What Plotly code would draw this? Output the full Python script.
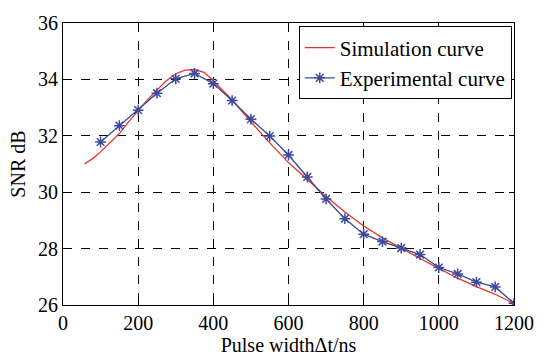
import plotly.graph_objects as go

sim_x = [57, 80, 100, 125, 150, 175, 200, 225, 250, 275, 300, 325, 350, 375, 400, 450, 500,
         550, 600, 650, 700, 750, 800, 850, 900, 950, 1000, 1050, 1100, 1150, 1200]
sim_y = [31.0, 31.2, 31.43, 31.75, 32.08, 32.5, 32.9, 33.28, 33.62, 33.95, 34.2, 34.33, 34.35,
         34.25, 33.95, 33.27, 32.5, 31.75, 31.05, 30.45, 29.85, 29.3, 28.8, 28.38, 28.0,
         27.65, 27.3, 26.95, 26.65, 26.38, 26.05]

exp_x = [100, 150, 200, 250, 300, 350, 400, 450, 500, 550, 600, 650, 700, 750, 800, 850,
         900, 950, 1000, 1050, 1100, 1150, 1200]
exp_y = [31.78, 32.36, 32.91, 33.51, 34.02, 34.21, 33.85, 33.25, 32.59, 31.99, 31.32, 30.54,
         29.76, 29.06, 28.51, 28.25, 28.02, 27.79, 27.33, 27.1, 26.81, 26.64, 26.06]

x_ticks = [0, 200, 400, 600, 800, 1000, 1200]
y_ticks = [26, 28, 30, 32, 34, 36]

FONT = "Times New Roman, Liberation Serif, DejaVu Serif, serif"

fig = go.Figure()
fig.add_trace(go.Scatter(x=sim_x, y=sim_y, mode="lines", name="Simulation curve",
                         line=dict(color="#e8352b", width=1.3)))
fig.add_trace(go.Scatter(x=exp_x, y=exp_y, mode="lines+markers", name="Experimental curve",
                         line=dict(color="#3b4a9c", width=1.3),
                         marker=dict(symbol="asterisk-open", size=9,
                                     line=dict(color="#3b4a9c", width=1.5))))

axis_common = dict(showline=True, linecolor="black", linewidth=1, mirror="ticks",
                   ticks="inside", ticklen=5, tickcolor="black",
                   showgrid=True, gridcolor="black", griddash="dash", gridwidth=1,
                   zeroline=False, tickfont=dict(family=FONT, size=20, color="black"))

fig.update_layout(
    width=546, height=362,
    margin=dict(l=63, r=24, t=18, b=54),
    paper_bgcolor="white", plot_bgcolor="white",
    font=dict(family=FONT, color="black"),
    xaxis=dict(range=[0, 1200], tickvals=x_ticks,
               title=dict(text="Pulse widthΔt/ns", font=dict(family=FONT, size=20), standoff=2),
               **axis_common),
    yaxis=dict(range=[26, 36], tickvals=y_ticks,
               title=dict(text="SNR dB", font=dict(family=FONT, size=20), standoff=7),
               **axis_common),
    legend=dict(x=0.995, y=0.988, xanchor="right", yanchor="top",
                bgcolor="white", bordercolor="black", borderwidth=1,
                font=dict(family=FONT, size=21, color="black"),
                tracegroupgap=0, itemwidth=30),
    showlegend=True,
)

fig.write_html("out.html")
